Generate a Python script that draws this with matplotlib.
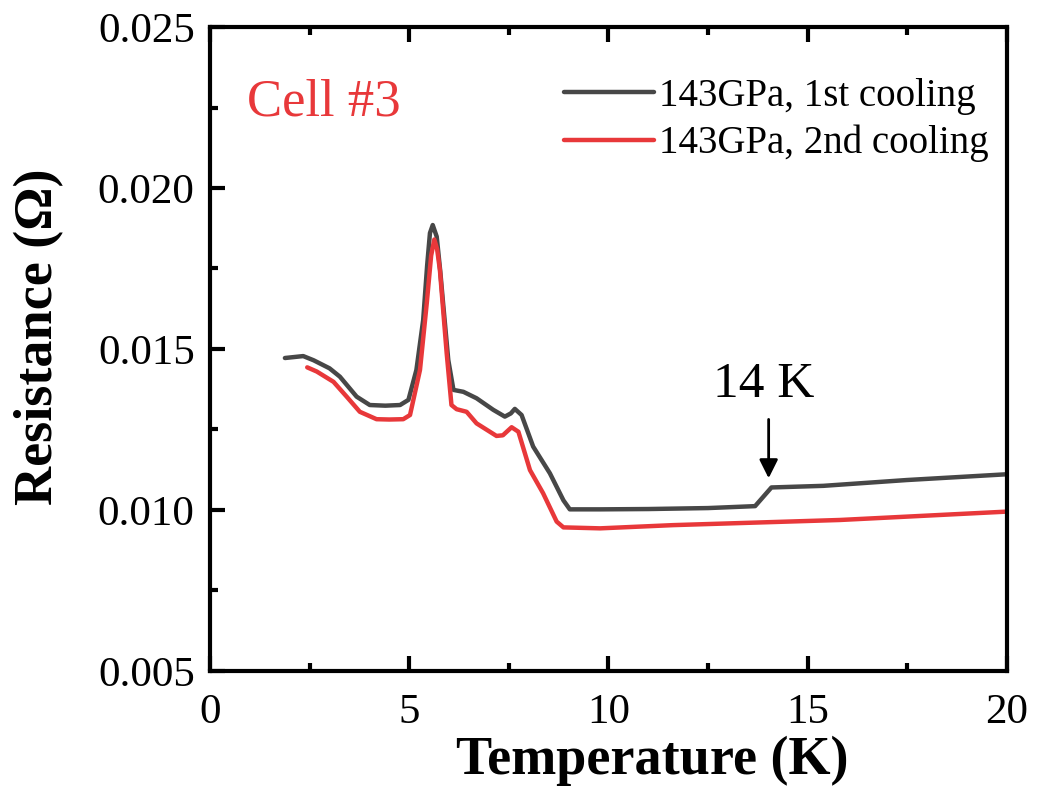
import matplotlib
matplotlib.use("Agg")
import matplotlib.pyplot as plt
from matplotlib.ticker import MultipleLocator, FormatStrFormatter

# ---- data ----
T1 = [1.88, 2.34, 2.60, 3.00, 3.26, 3.68, 4.01, 4.40, 4.77, 4.98, 5.18, 5.35, 5.45, 5.52, 5.59,
      5.69, 5.78, 5.85, 5.98, 6.11, 6.36, 6.69, 7.11, 7.40, 7.55, 7.65, 7.82, 8.11, 8.53, 8.87,
      9.03, 9.79, 11.0, 12.5, 13.68, 14.09, 15.39, 17.48, 20.0]
R1 = [0.01472, 0.01478, 0.01465, 0.01440, 0.01414, 0.01352, 0.01326, 0.01324, 0.01326,
      0.01342, 0.01435, 0.01590, 0.01760, 0.01860, 0.01885, 0.01849, 0.01740, 0.01642,
      0.01466, 0.01373, 0.01367, 0.01347, 0.01311, 0.01290, 0.01300, 0.01314, 0.01295,
      0.01197, 0.01114, 0.01030, 0.01002, 0.01002, 0.01003, 0.01006, 0.01012, 0.01070,
      0.01075, 0.01093, 0.01111]

T2 = [2.44, 2.68, 3.10, 3.43, 3.76, 4.18, 4.50, 4.85, 5.02, 5.27, 5.44, 5.55, 5.63, 5.70,
      5.77, 5.94, 6.06, 6.19, 6.44, 6.69, 7.19, 7.35, 7.57, 7.74, 8.03, 8.36, 8.70, 8.87,
      9.79, 11.62, 15.81, 20.0]
R2 = [0.01443, 0.01430, 0.01398, 0.01352, 0.01305, 0.01282, 0.01281, 0.01282, 0.01295,
      0.01435, 0.01642, 0.01790, 0.01840, 0.01810, 0.01745, 0.01487, 0.01326, 0.01313,
      0.01305, 0.01269, 0.01230, 0.01232, 0.01257, 0.01243, 0.01124, 0.01052, 0.00964,
      0.00946, 0.00943, 0.00953, 0.00969, 0.00995]

labels = ["143GPa, 1st cooling", "143GPa, 2nd cooling"]
colors = ["#474747", "#e8383a"]

plt.rcParams['font.family'] = ['Liberation Serif', 'DejaVu Serif']

fig = plt.figure(figsize=(10.37, 8.06), dpi=100)
ax = fig.add_axes([0.2025, 0.1675, 0.7685, 0.799])

ax.plot(T1, R1, color=colors[0], lw=3.2, label=labels[0], solid_capstyle='round', solid_joinstyle='round')
ax.plot(T2, R2, color=colors[1], lw=3.2, label=labels[1], solid_capstyle='round', solid_joinstyle='round')

ax.set_xlim(0, 20)
ax.set_ylim(0.005, 0.025)
ax.xaxis.set_major_locator(MultipleLocator(5))
ax.xaxis.set_minor_locator(MultipleLocator(2.5))
ax.yaxis.set_major_locator(MultipleLocator(0.005))
ax.yaxis.set_minor_locator(MultipleLocator(0.0025))
ax.yaxis.set_major_formatter(FormatStrFormatter('%.3f'))

ax.tick_params(which='both', direction='in', width=3, top=True, right=False, labelsize=31)
ax.tick_params(axis='x', which='major', pad=16)
ax.tick_params(axis='y', which='major', pad=11)
ax.tick_params(which='major', length=11)
ax.tick_params(which='minor', length=6)
for s in ax.spines.values():
    s.set_linewidth(3)

ax.set_xlabel('Temperature (K)', fontsize=39, fontweight='bold')
ax.set_ylabel('Resistance (Ω)', fontsize=39, fontweight='bold')
ax.xaxis.set_label_coords(0.555, -0.100)
ax.yaxis.set_label_coords(-0.183, 0.519)

ax.text(0.93, 0.02265, 'Cell #3', color=colors[1], fontsize=38, va='center', ha='left')

ax.annotate('', xy=(14.02, 0.0109), xytext=(14.02, 0.0129),
            arrowprops=dict(arrowstyle='-|>', color='black', lw=2, mutation_scale=28))
ax.text(13.9, 0.01390, '14 K', fontsize=37, ha='center', va='center')

leg = ax.legend(loc='upper right', frameon=False, fontsize=28, handlelength=2.3,
                handletextpad=0.15, labelspacing=0.25, borderaxespad=0.0,
                bbox_to_anchor=(0.997, 0.945))

fig.savefig('out.png', dpi=100)
